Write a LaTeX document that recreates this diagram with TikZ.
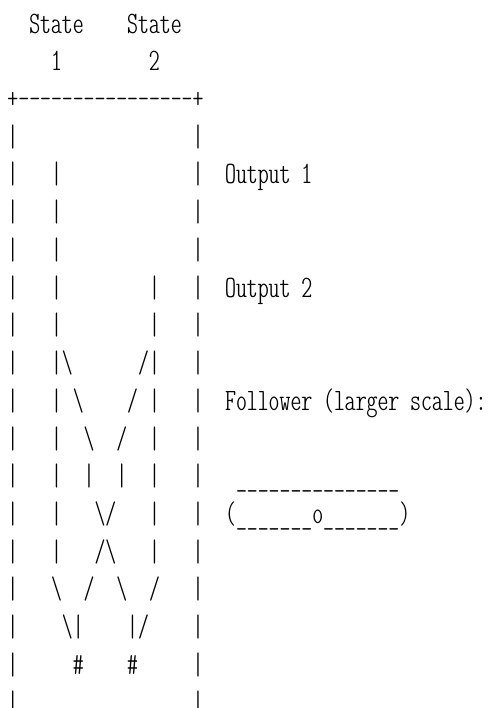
\documentclass[tikz,border=0pt]{standalone}
\usepackage{fontspec}
\newfontfamily\asciifont{lmmonoltcond10-regular.otf}
\usepackage{tikz}

\tikzset{
  asciiline/.style={anchor=base west, inner sep=0pt, outer sep=0pt,
    font=\asciifont\fontsize{15.55}{18}\selectfont}
}
\newcommand\bsl{\textbackslash}

\begin{document}
\begin{tikzpicture}[x=0.5pt,y=-0.5pt]
    \useasboundingbox (0,0) rectangle (491,708);
    % header: the two states
    \node[asciiline] (lnA) at (7.5,33) {~~State~~~~State};
    \node[asciiline] (lnB) at (7.5,70.73) {~~~~1~~~~~~~~2};
    % frame top
    \node[asciiline] (lnC) at (7.5,108.46) {+----------------+};
    \node[asciiline] (lnD) at (7.5,146.19) {|~~~~~~~~~~~~~~~~|};
    % outputs
    \node[asciiline] (lnE) at (7.5,183.92) {|~~~|~~~~~~~~~~~~|~~Output~1};
    \node[asciiline] (lnF) at (7.5,221.65) {|~~~|~~~~~~~~~~~~|};
    \node[asciiline] (lnG) at (7.5,259.38) {|~~~|~~~~~~~~~~~~|};
    \node[asciiline] (lnH) at (7.5,297.11) {|~~~|~~~~~~~~|~~~|~~Output~2};
    \node[asciiline] (lnI) at (7.5,334.84) {|~~~|~~~~~~~~|~~~|};
    % crossing
    \node[asciiline] (lnJ) at (7.5,372.57) {|~~~|\bsl~~~~~~/|~~~|};
    \node[asciiline] (lnK) at (7.5,410.3) {|~~~|~\bsl~~~~/~|~~~|~~Follower~(larger~scale):};
    \node[asciiline] (lnL) at (7.5,448.03) {|~~~|~~\bsl~~/~~|~~~|};
    \node[asciiline] (lnM) at (7.5,485.76) {|~~~|~~|~~|~~|~~~|~~~\_\_\_\_\_\_\_\_\_\_\_\_\_\_\_};
    \node[asciiline] (lnN) at (7.5,523.49) {|~~~|~~~\bsl/~~~|~~~|~~(\_\_\_\_\_\_\_o\_\_\_\_\_\_\_)};
    \node[asciiline] (lnO) at (7.5,561.22) {|~~~|~~~/\bsl~~~|~~~|};
    \node[asciiline] (lnP) at (7.5,598.95) {|~~~\bsl~~/~~\bsl~~/~~~|};
    \node[asciiline] (lnQ) at (7.5,636.68) {|~~~~\bsl|~~~~|/~~~~|};
    % followers
    \node[asciiline] (lnR) at (7.5,674.41) {|~~~~~\#~~~~\#~~~~~|};
    \node[asciiline] (lnS) at (7.5,712.14) {|~~~~~~~~~~~~~~~~|};
\end{tikzpicture}
\end{document}
